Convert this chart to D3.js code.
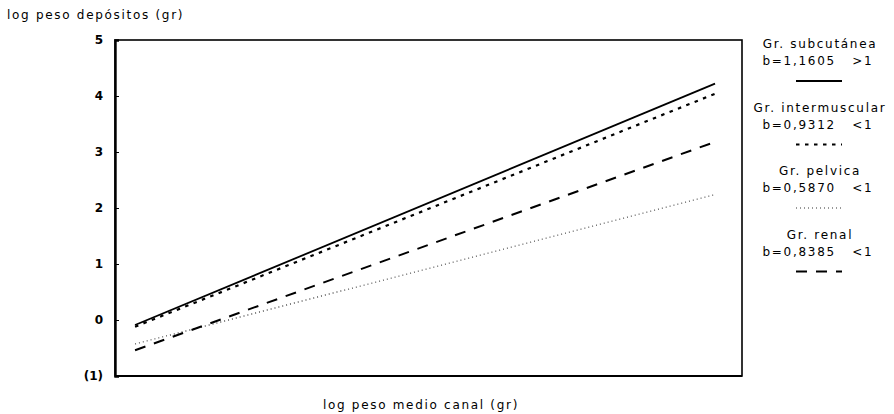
<!DOCTYPE html>
<html>
<head>
<meta charset="utf-8">
<script src="https://cdn.jsdelivr.net/npm/d3@7"></script>
<style>
  body { margin: 0; background: #fff; }
  text { font-family: "DejaVu Sans", sans-serif; fill: #000; }
  .lbl { font-size: 12px; letter-spacing: 1.7px; }
</style>
</head>
<body>
<div id="chart"></div>
<script>
'use strict'

// data
const yTicks = [-1, 0, 1, 2, 3, 4, 5]
const yTickLabels = ["(1)", "0", "1", "2", "3", "4", "5"]
const xPoints = [0.032, 0.957]   // line start / end on a hidden 0..1 x axis
const seriesNames = ["Gr. subcutánea", "Gr. intermuscular", "Gr. pelvica", "Gr. renal"]
const seriesB = ["b=1,1605   >1", "b=0,9312   <1", "b=0,5870   <1", "b=0,8385   <1"]
const subcutanea = [-0.09, 4.22]
const intermuscular = [-0.12, 4.04]
const pelvica = [-0.43, 2.24]
const renal = [-0.54, 3.18]

const width = 894, height = 414
const margin = {left: 115, right: 152, top: 40, bottom: 38}

const svg = d3.select("#chart").append("svg")
  .attr("width", width)
  .attr("height", height)

const x = d3.scaleLinear().domain([0, 1]).range([margin.left, width - margin.right])
const y = d3.scaleLinear().domain([-1, 5]).range([height - margin.bottom, margin.top])

const series = [
  {name: seriesNames[0], b: seriesB[0], vals: subcutanea, dash: null, w: 1.8, col: "#000"},
  {name: seriesNames[1], b: seriesB[1], vals: intermuscular, dash: "3.5,5.5", w: 2.2, col: "#000"},
  {name: seriesNames[2], b: seriesB[2], vals: pelvica, dash: "1,3", w: 1.1, col: "#333"},
  {name: seriesNames[3], b: seriesB[3], vals: renal, dash: "11,9", w: 2, col: "#000"}
]

// frame
svg.append("rect")
  .attr("x", x(0)).attr("y", y(5))
  .attr("width", x(1) - x(0)).attr("height", y(-1) - y(5))
  .attr("fill", "none").attr("stroke", "#000").attr("stroke-width", 1.6)
svg.append("line")
  .attr("x1", x(0)).attr("x2", x(1)).attr("y1", y(-1)).attr("y2", y(-1))
  .attr("stroke", "#000").attr("stroke-width", 2.2)

// left axis
const yAxis = d3.axisLeft(y).tickValues(yTicks).tickSize(-4).tickPadding(12)
  .tickFormat((d, i) => yTickLabels[i])
const ya = svg.append("g").attr("transform", `translate(${x(0)},0)`).call(yAxis)
ya.select(".domain").attr("stroke-width", 2.4)
ya.selectAll("text").style("font-size", "12px").style("font-weight", "bold")

// lines
const line = d3.line().x((d, i) => x(xPoints[i])).y(d => y(d))
svg.selectAll(".series").data(series).enter().append("path")
  .attr("class", "series")
  .attr("d", d => line(d.vals))
  .attr("fill", "none")
  .attr("stroke", d => d.col)
  .attr("stroke-width", d => d.w)
  .attr("stroke-dasharray", d => d.dash)

// axis titles
svg.append("text").attr("class", "lbl").attr("x", 7).attr("y", 19)
  .text("log peso depósitos (gr)")
svg.append("text").attr("class", "lbl").attr("x", 421).attr("y", 409).attr("text-anchor", "middle")
  .text("log peso medio canal (gr)")

// legend
const legend = svg.append("g")
series.forEach(function(s, i){
  const top = 48 + i * 63.5
  legend.append("text").attr("class", "lbl").attr("x", 820).attr("y", top).attr("text-anchor", "middle")
    .text(s.name)
  legend.append("text").attr("class", "lbl").attr("x", 818).attr("y", top + 17).attr("text-anchor", "middle")
    .attr("xml:space", "preserve").style("white-space", "pre").text(s.b)
  legend.append("line")
    .attr("x1", 796).attr("x2", 842)
    .attr("y1", top + 33).attr("y2", top + 33)
    .attr("stroke", s.col).attr("stroke-width", s.w)
    .attr("stroke-dasharray", s.dash)
})
</script>
</body>
</html>
